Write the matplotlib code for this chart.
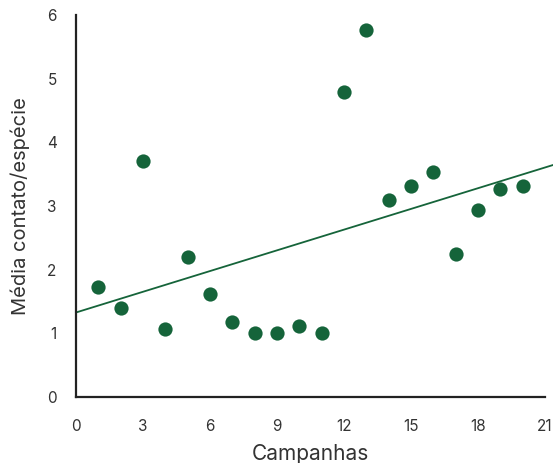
import matplotlib.pyplot as plt
import numpy as np

plt.rcParams['font.family'] = ['Inter', 'DejaVu Sans']

campanhas = np.arange(1, 21)
media = [1.73, 1.40, 3.70, 1.07, 2.20, 1.62, 1.18, 1.01, 1.01, 1.12,
         1.01, 4.79, 5.76, 3.10, 3.32, 3.54, 2.25, 2.94, 3.26, 3.32]
xticks = [0, 3, 6, 9, 12, 15, 18, 21]
yticks = [0, 1, 2, 3, 4, 5, 6]

verde = '#15643a'

fig = plt.figure(figsize=(5.53, 4.63), dpi=100)
ax = fig.add_axes([0.1374, 0.1425, 0.848, 0.825])

ax.scatter(campanhas, media, s=105, color=verde, zorder=3, linewidths=0)

# linha de tendencia (minimos quadrados)
b, a = np.polyfit(campanhas, media, 1)
xl = np.array([0, 21.4])
ax.plot(xl, a + b * xl, color=verde, linewidth=1.3, clip_on=False)

ax.set_xlim(0, 21)
ax.set_ylim(0, 6)
ax.set_xticks(xticks)
ax.set_yticks(yticks)
ax.tick_params(length=0, labelsize=11, colors='#333333')
ax.tick_params(axis='x', pad=16)
ax.tick_params(axis='y', pad=14)
for s in ['top', 'right']:
    ax.spines[s].set_visible(False)
for s in ['left', 'bottom']:
    ax.spines[s].set_linewidth(1.6)
    ax.spines[s].set_color('#222222')

ax.set_xlabel('Campanhas', fontsize=15, color='#333333', labelpad=7)
ax.set_ylabel('Média contato/espécie', fontsize=14.5, color='#333333', labelpad=12)

fig.savefig('out.png')
